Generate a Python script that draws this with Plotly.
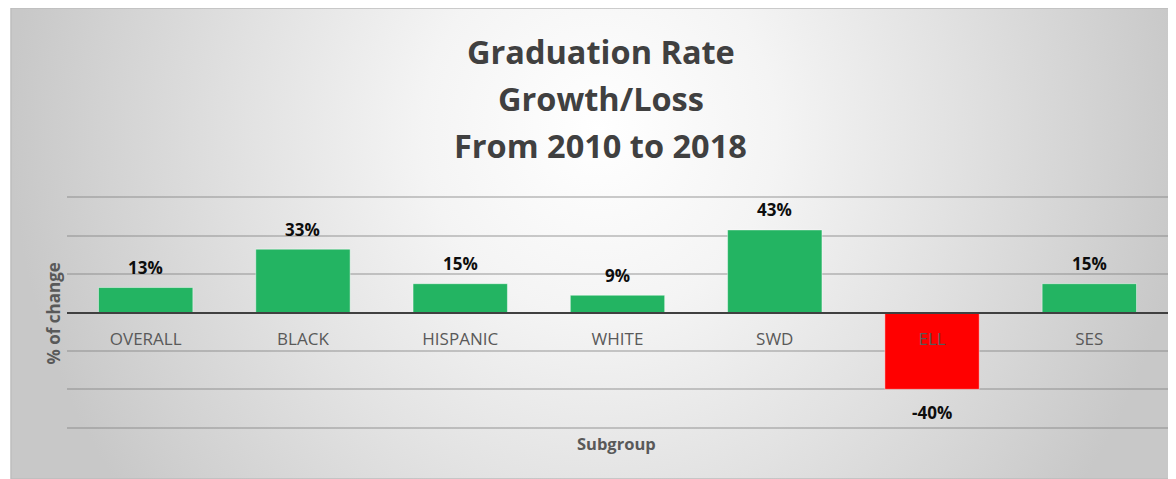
import plotly.graph_objects as go

# datos
subgroups = ["OVERALL", "BLACK", "HISPANIC", "WHITE", "SWD", "ELL", "SES"]
pct_change = [13, 33, 15, 9, 43, -40, 15]
title_lines = ["Graduation Rate", "Growth/Loss", "From 2010 to 2018"]
y_title = "% of change"
x_title = "Subgroup"

FONT = "Open Sans"
GREEN = "#23b462"
RED = "#ff0000"

fig = go.Figure()

# fondo con degradado radial (estilo Excel), en su propio subplot debajo de todo
fig.add_trace(go.Scatter(
    x=[0, 1.01, 1.01, 0, 0],
    y=[-0.571, -0.571, 2.053, 2.053, -0.571],
    mode='lines',
    fill='toself',
    fillgradient=dict(
        type='radial',
        colorscale=[[0, '#ffffff'], [0.3, '#f4f4f4'], [0.6, '#e2e2e2'],
                    [0.85, '#d2d2d2'], [1, '#c8c8c8']],
    ),
    line=dict(width=0),
    hoverinfo='skip',
    showlegend=False,
    xaxis='x', yaxis='y',
))

# barras
colors = [GREEN if v >= 0 else RED for v in pct_change]
fig.add_trace(go.Bar(
    x=subgroups,
    y=pct_change,
    marker=dict(color=colors, line=dict(color='rgba(255,255,255,0.45)', width=1)),
    showlegend=False,
    xaxis='x2', yaxis='y2',
))

# etiquetas de datos
for cat, val in zip(subgroups, pct_change):
    fig.add_annotation(
        x=cat, y=val, xref='x2', yref='y2',
        text=f"{val}%",
        showarrow=False,
        yshift=20 if val >= 0 else -23,
        font=dict(family=FONT, size=17, color='#0d0d0d', weight='bold'),
    )

# titulo en tres lineas
for i, line in enumerate(title_lines):
    fig.add_annotation(
        x=0.5064, y=0.9075 - i * 0.0998, xref='paper', yref='paper',
        text=line, showarrow=False, xanchor='center', yanchor='middle',
        font=dict(family=FONT, size=32.5, color='#404040', weight='bold'),
    )

fig.add_annotation(
    x=0.0369, y=0.3514, xref='paper', yref='paper', text=y_title,
    showarrow=False, textangle=-90, xanchor='center', yanchor='middle',
    font=dict(family=FONT, size=17, color='#595959', weight='bold'),
)
fig.add_annotation(
    x=0.5197, y=0.0754, xref='paper', yref='paper', text=x_title,
    showarrow=False, xanchor='center', yanchor='middle',
    font=dict(family=FONT, size=16.5, color='#595959', weight='bold'),
)

# borde del area del grafico
fig.add_shape(type='rect', xref='paper', yref='paper', x0=0, x1=1, y0=0, y1=1,
              line=dict(color='#bdbdbd', width=1.5), layer='above')

fig.update_layout(
    width=1168, height=471,
    margin=dict(l=3, r=0, t=0, b=0),
    paper_bgcolor='white',
    plot_bgcolor='rgba(0,0,0,0)',
    bargap=0.4,
    xaxis=dict(domain=[0, 1], range=[0, 1], visible=False, fixedrange=True),
    yaxis=dict(domain=[0, 1], range=[0, 1], visible=False, fixedrange=True),
    xaxis2=dict(
        domain=[0.0481, 0.9931], anchor='free', position=0.3533,
        type='category', showline=True, linecolor='#404040', linewidth=2,
        showgrid=False, zeroline=False, ticks='', ticklabelstandoff=11,
        tickfont=dict(family=FONT, size=17, color='#595959'),
    ),
    yaxis2=dict(
        domain=[0.1048, 0.6022], anchor='x2', range=[-61, 61],
        tickmode='linear', tick0=0, dtick=20,
        showticklabels=False, showgrid=True, gridcolor='rgba(128,128,128,0.4)',
        gridwidth=1.5, zeroline=False, showline=False,
    ),
)

fig.write_html("out.html")
